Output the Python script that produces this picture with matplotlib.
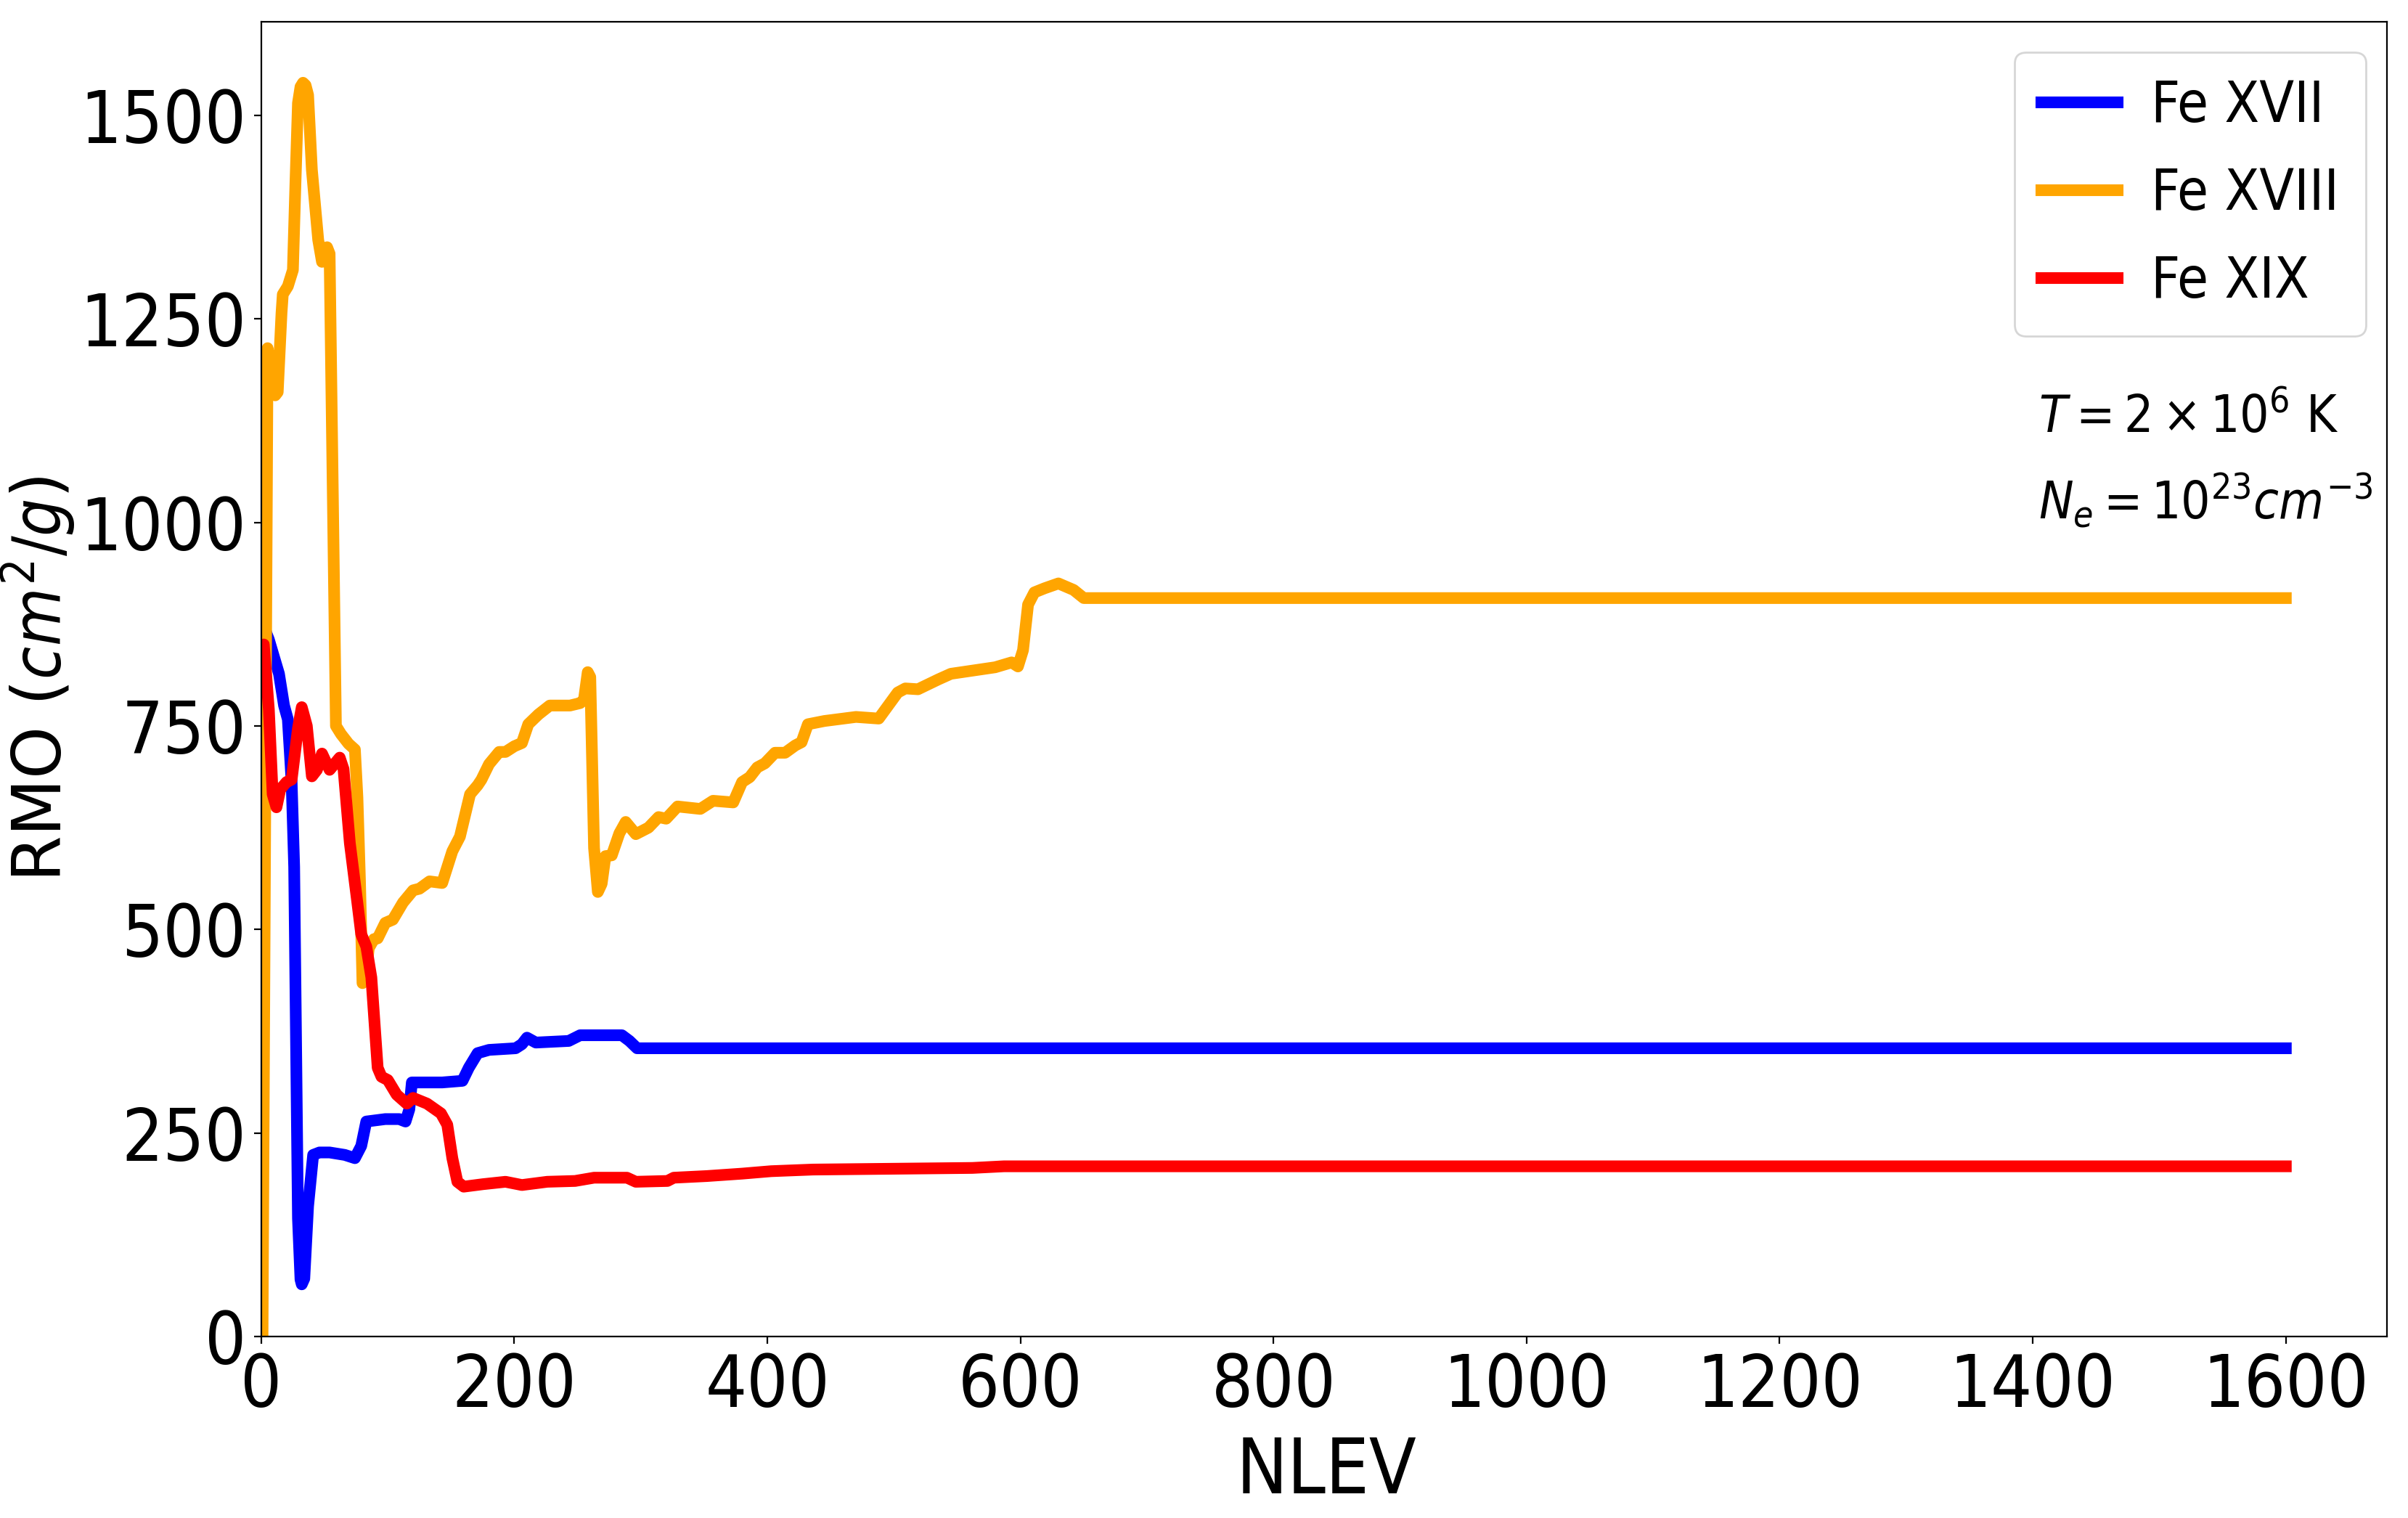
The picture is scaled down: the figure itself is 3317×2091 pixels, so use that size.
import matplotlib
matplotlib.use("Agg")
import matplotlib.pyplot as plt
from matplotlib import font_manager as fm

# ── Data ───────────────────────────────────────────────────────
nlev_fe17 = [1, 3, 6, 10, 14, 18, 21, 24, 26, 29, 31, 32, 34, 37, 41, 46, 54, 66,
             74, 79, 83, 98, 109, 114, 117, 119, 125, 143, 159, 164, 171, 180,
             201, 206, 210, 217, 243, 252, 285, 291, 297, 1600]
rmo_fe17 = [878, 868, 856, 835, 814, 775, 758, 681, 577, 145, 70, 64, 71, 160, 223,
            226, 226, 223, 219, 234, 264, 267, 267, 264, 279, 312, 312, 312, 314,
            330, 348, 352, 354, 359, 367, 361, 363, 370, 370, 363, 354, 354]

nlev_fe18 = [1, 5, 7, 11, 13, 16, 17, 21, 25, 27, 29, 31, 33, 35, 37, 40, 45, 48,
             52, 54, 59, 63, 69, 74, 76, 78, 80, 82, 85, 89, 92, 98, 104, 112, 120,
             125, 133, 143, 151, 157, 165, 171, 174, 180, 188, 193, 200, 206, 211,
             219, 228, 244, 252, 255, 258, 260, 263, 266, 269, 272, 277, 283, 288,
             296, 306, 314, 320, 329, 347, 357, 373, 380, 386, 392, 398, 406, 414,
             422, 427, 432, 445, 470, 488, 503, 509, 519, 535, 545, 580, 593, 598,
             602, 606, 611, 619, 630, 642, 650, 1600]
rmo_fe18 = [0, 1214, 1195, 1156, 1160, 1257, 1280, 1290, 1310, 1416, 1515, 1535,
            1540, 1537, 1525, 1433, 1347, 1320, 1338, 1330, 750, 740, 728, 721,
            662, 560, 434, 437, 477, 488, 489, 508, 512, 533, 548, 550, 559, 557,
            596, 614, 666, 677, 684, 703, 718, 718, 725, 729, 752, 764, 775, 775,
            778, 782, 816, 810, 600, 546, 556, 590, 591, 618, 632, 617, 625, 638,
            636, 651, 648, 658, 656, 681, 687, 699, 704, 717, 717, 726, 730, 752,
            756, 761, 759, 791, 796, 795, 807, 814, 822, 828, 823, 843, 899, 914,
            919, 925, 917, 907, 907]

nlev_fe19 = [1, 2, 6, 9, 12, 15, 20, 24, 29, 32, 36, 40, 44, 48, 54, 62, 65, 70,
             76, 79, 83, 87, 92, 95, 100, 107, 115, 120, 131, 142, 147, 151, 155,
             160, 175, 193, 206, 226, 248, 263, 289, 296, 321, 326, 352, 380, 403,
             436, 562, 587, 1600]
rmo_fe19 = [847, 850, 770, 666, 650, 672, 681, 684, 747, 773, 750, 688, 696, 716,
            696, 711, 697, 606, 532, 494, 479, 441, 330, 319, 315, 297, 286, 293,
            286, 274, 260, 219, 190, 184, 187, 190, 186, 190, 191, 195, 195, 190,
            191, 195, 197, 200, 203, 205, 207, 209, 209]

series_labels = ["Fe XVII", "Fe XVIII", "Fe XIX"]
series_colors = ["blue", "orange", "red"]

x_ticks = [0, 200, 400, 600, 800, 1000, 1200, 1400, 1600]
y_ticks = [0, 250, 500, 750, 1000, 1250, 1500]

# ── Fonts ──────────────────────────────────────────────────────
# The reference image is squeezed sideways, so a narrow face is the closest
# match; fall back to plain DejaVu Sans (with smaller sizes) if none exists.
_have = {(f.name, f.stretch) for f in fm.fontManager.ttflist}
_prefs = [("Liberation Sans Narrow", None), ("DejaVu Sans", "condensed"),
          ("Roboto Condensed", None), ("Open Sans Condensed", None),
          ("Noto Sans", "condensed"), ("Open Sans", "condensed"),
          ("Roboto", "condensed"), ("DejaVu Sans", "semi-condensed")]
FAMILY, STRETCH = "DejaVu Sans", "normal"
narrow = False
for name, stretch in _prefs:
    if any(n == name and (stretch is None or s == stretch) for n, s in _have):
        FAMILY, STRETCH = name, (stretch or "normal")
        narrow = True
        break

plt.rcParams["font.family"] = [FAMILY, "DejaVu Sans"]
plt.rcParams["font.stretch"] = STRETCH
if narrow:
    plt.rcParams["mathtext.fontset"] = "custom"
    plt.rcParams["mathtext.rm"] = f"{FAMILY}:stretch={STRETCH}"
    plt.rcParams["mathtext.it"] = f"{FAMILY}:italic:stretch={STRETCH}"
    plt.rcParams["mathtext.bf"] = f"{FAMILY}:bold:stretch={STRETCH}"
    sizes = dict(tick=36, xlabel=38, legend=28, annot=25.5, ylabel=33)
else:
    plt.rcParams["mathtext.fontset"] = "dejavusans"
    sizes = dict(tick=31, xlabel=33, legend=25, annot=24, ylabel=32)

fig = plt.figure(figsize=(3317 / 200, 2091 / 200), dpi=200)
ax = fig.add_axes([0.1085, 0.1196, 0.8828, 0.8661])

xs = [nlev_fe17, nlev_fe18, nlev_fe19]
ys = [rmo_fe17, rmo_fe18, rmo_fe19]
for x, y, lab, col in zip(xs, ys, series_labels, series_colors):
    ax.plot(x, y, color=col, lw=5.8, label=lab)

ax.set_xlim(0, 1680)
ax.set_ylim(0, 1615)
ax.set_xticks(x_ticks)
ax.set_yticks(y_ticks)
ax.tick_params(labelsize=sizes["tick"], pad=4)

ax.set_xlabel("NLEV", fontsize=sizes["xlabel"])
ax.xaxis.set_label_coords(0.501, -0.075)
ax.set_ylabel("RMO ($cm^2/g$)", fontsize=sizes["ylabel"], family="DejaVu Sans",
              stretch="normal", math_fontfamily="dejavusans")
ax.yaxis.set_label_coords(-0.087, 0.5)

ax.legend(loc="upper right", bbox_to_anchor=(0.990, 0.977), borderaxespad=0,
          fontsize=sizes["legend"], handlelength=1.35, handletextpad=0.6,
          labelspacing=0.58, borderpad=0.47)

ax.text(0.836, 0.6875, r"$T = 2 \times 10^6$ K", transform=ax.transAxes,
        fontsize=sizes["annot"], va="baseline")
ax.text(0.836, 0.622, r"$N_e = 10^{23} cm^{-3}$", transform=ax.transAxes,
        fontsize=sizes["annot"], va="baseline")

fig.savefig("out.png", dpi=200)
